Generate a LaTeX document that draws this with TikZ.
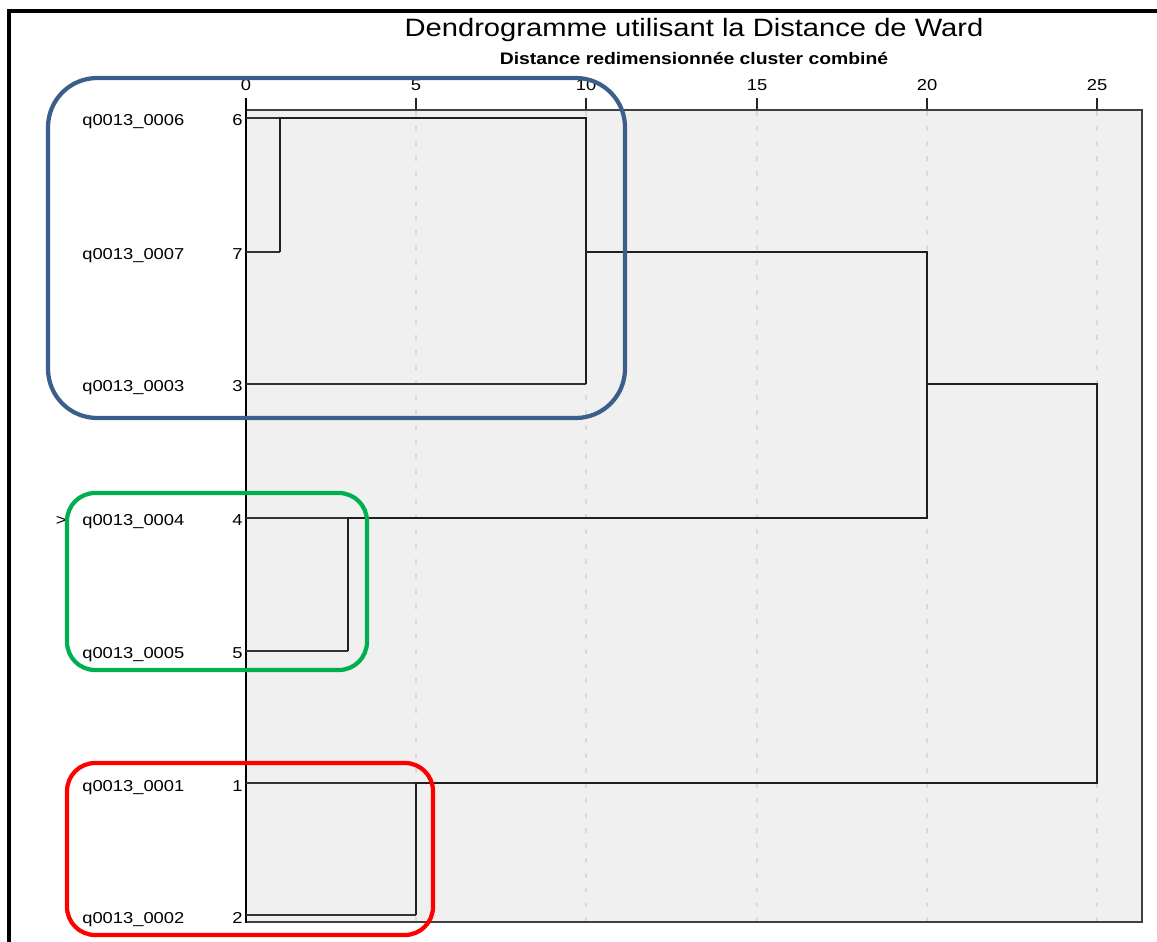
\documentclass[tikz,border=0pt]{standalone}
\usepackage{fontspec}
\setmainfont{Liberation Sans}[FakeStretch=1.16]
\usetikzlibrary{positioning}
\definecolor{clusterblue}{RGB}{59,94,139}
\definecolor{clustergreen}{RGB}{0,176,80}
\definecolor{clusterred}{RGB}{255,0,0}
\definecolor{plotgrey}{RGB}{240,240,240}
\tikzset{
  leaf/.style={draw=black!80,line width=0.9pt},
  merge/.style={draw=black!88,line width=1.3pt},
  gridline/.style={draw=black!15,line width=1pt,dash pattern=on 2.8pt off 5.7pt},
  cluster/.style={line width=2.4pt,rounded corners=#1},
  cluster/.default=16pt,
  label font/.style={inner sep=0,font=\fontsize{9}{10}\selectfont},
}

\begin{document}
\begin{tikzpicture}[x=0.02cm,y=-0.02cm]
  \useasboundingbox (0,0) rectangle (1157,942);

  \draw[line width=2.6pt] (9,942) -- (9,11) -- (1157,11);

  \node[anchor=base,inner sep=0,font=\fontsize{14.3}{16}\selectfont] (title) at (694,37) {Dendrogramme utilisant la Distance de Ward};
  \node[anchor=base,inner sep=0,font=\fontsize{9.5}{11}\selectfont\bfseries] (subtitle) at (694,65) {Distance redimensionnée cluster combiné};

  \fill[plotgrey] (246,110) rectangle (1142,922);
  \foreach \d/\x in {5/416,10/586,15/757,20/927,25/1097} {
    \draw[gridline] (\x,111) -- (\x,921);
    \draw[black!85,line width=0.8pt] (\x,98) -- (\x,110);
  }
  \foreach \d/\x in {0/246,5/416,10/586,15/757,20/927,25/1097}
    \node[label font,anchor=base] (tick\d) at (\x,91) {\d};
  \draw[black!75,line width=0.8pt] (246,110) -- (1142,110) -- (1142,922) -- (246,922);
  \draw[black,line width=0.9pt] (246,98) -- (246,923);

  \foreach \n/\y in {6/118,7/252,3/384,4/518,5/651,1/783,2/915} {
    \node[label font,anchor=base west] (name\n) at (82,\y+8) {q0013\_000\n};
    \node[label font,anchor=base east] (num\n) at (243,\y+8) {\n};
    \coordinate (leaf\n) at (246,\y);
  }
  \node[label font,anchor=base east] (marker) at (67,526) {>};

  \draw[leaf] (leaf6) -- ++(34,0);
  \draw[leaf] (leaf7) -- ++(34,0);
  \draw[leaf] (leaf3) -- ++(340,0);
  \draw[leaf] (leaf4) -- ++(102,0);
  \draw[leaf] (leaf5) -- ++(102,0);
  \draw[leaf] (leaf1) -- ++(170,0);
  \draw[leaf] (leaf2) -- ++(170,0);

  \draw[merge] (leaf7) ++(34,0) |- (586,118) |- (leaf3 -| 586,0);
  \draw[merge] (leaf7) ++(340,0) -- (927,252) |- (348,518) |- (leaf5 -| 348,0);
  \draw[merge] (leaf3) ++(681,0) -- (1097,384) |- (416,783) |- (leaf2 -| 416,0);

  \draw[clusterblue,cluster=28pt] (48,78) rectangle (625,418);
  \draw[clustergreen,cluster] (67,493) rectangle (367,670);
  \draw[clusterred,cluster] (67,763) rectangle (433,935);

\end{tikzpicture}
\end{document}
